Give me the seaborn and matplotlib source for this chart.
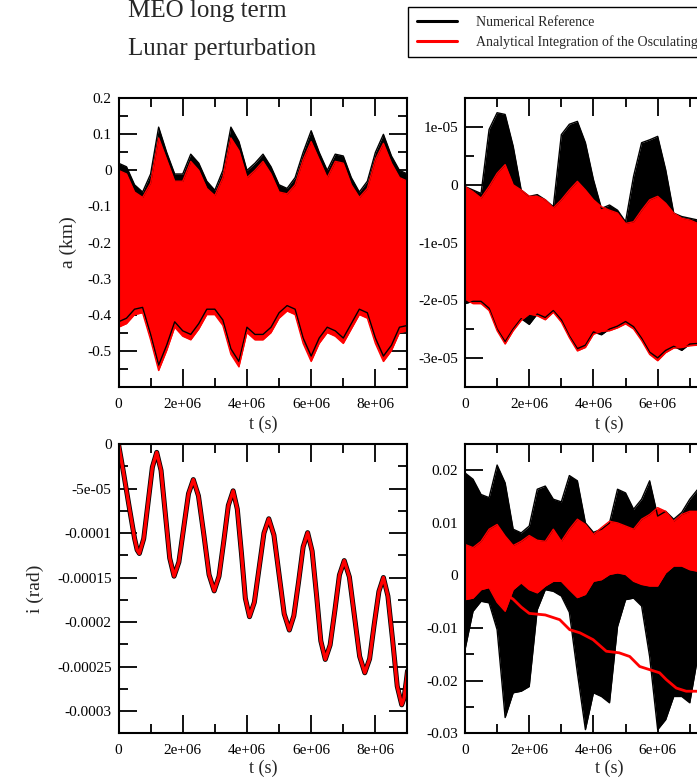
import numpy as np
import matplotlib
matplotlib.use("Agg")
import matplotlib.pyplot as plt
import seaborn as sns
from matplotlib.lines import Line2D
from matplotlib.ticker import MultipleLocator

# ---------------- data ----------------
# sampling grid for the envelopes (seconds)
t_env_a = np.arange(37) * 0.25e6          # 0 .. 9e6
t_env_r = np.arange(31) * 0.25e6          # 0 .. 7.5e6 (right column, cut off)

# a (km) : envelopes of the fast oscillation
a_num_hi = [0.02, 0.01, -0.04, -0.06, -0.01, 0.12, 0.05, -0.01, -0.01, 0.045, 0.02, -0.03,
            -0.055, 0.0, 0.12, 0.08, 0.0, 0.02, 0.045, 0.01, -0.04, -0.05, -0.02, 0.05,
            0.11, 0.05, 0.0, 0.045, 0.04, -0.02, -0.06, -0.03, 0.05, 0.10, 0.04, 0.0, -0.01]
a_num_lo = [-0.42, -0.41, -0.385, -0.38, -0.455, -0.54, -0.485, -0.42, -0.445, -0.455, -0.425,
            -0.385, -0.385, -0.415, -0.495, -0.53, -0.435, -0.455, -0.455, -0.435, -0.395,
            -0.375, -0.385, -0.465, -0.515, -0.465, -0.435, -0.445, -0.465, -0.425, -0.385,
            -0.395, -0.465, -0.515, -0.485, -0.435, -0.43]
a_ana_hi = [0.0, -0.01, -0.06, -0.075, -0.035, 0.09, 0.03, -0.03, -0.03, 0.025, 0.0, -0.05,
            -0.07, -0.02, 0.09, 0.055, -0.02, 0.0, 0.025, -0.01, -0.06, -0.065, -0.04, 0.03,
            0.08, 0.03, -0.02, 0.025, 0.02, -0.04, -0.075, -0.05, 0.03, 0.075, 0.02, -0.02, -0.03]
a_ana_lo = [-0.435, -0.425, -0.40, -0.395, -0.47, -0.555, -0.50, -0.435, -0.46, -0.47, -0.44,
            -0.40, -0.40, -0.43, -0.51, -0.545, -0.45, -0.47, -0.47, -0.45, -0.41, -0.39,
            -0.40, -0.48, -0.53, -0.48, -0.45, -0.46, -0.48, -0.44, -0.40, -0.41, -0.48,
            -0.53, -0.50, -0.45, -0.445]

# top-right panel (units of 1e-5)
e_num_hi = [-0.03, -0.09, -0.15, 0.96, 1.25, 1.22, 0.67, -0.09, -0.2, -0.17, -0.26, -0.38,
            0.87, 1.05, 1.1, 0.73, 0.09, -0.41, -0.35, -0.44, -0.64, 0.15, 0.73, 0.78, 0.84,
            0.26, -0.49, -0.55, -0.58, -0.61, -0.62]
e_num_lo = [-2.06, -2.02, -2.02, -2.14, -2.5, -2.72, -2.5, -2.32, -2.42, -2.24, -2.3, -2.18,
            -2.34, -2.62, -2.84, -2.78, -2.55, -2.6, -2.5, -2.45, -2.37, -2.46, -2.66, -2.9,
            -3.0, -2.87, -2.8, -2.87, -2.76, -2.75, -2.75]
e_ana_hi = [-0.03, -0.12, -0.23, -0.03, 0.2, 0.35, 0.0, -0.09, -0.2, -0.2, -0.26, -0.4, -0.26,
            -0.09, 0.06, -0.09, -0.26, -0.38, -0.44, -0.49, -0.67, -0.64, -0.44, -0.26, -0.2,
            -0.32, -0.49, -0.58, -0.61, -0.67, -0.67]
e_ana_lo = [-1.98, -2.06, -2.06, -2.18, -2.53, -2.76, -2.53, -2.35, -2.24, -2.27, -2.34, -2.21,
            -2.38, -2.65, -2.88, -2.82, -2.59, -2.54, -2.53, -2.48, -2.41, -2.5, -2.7, -2.94,
            -3.05, -2.91, -2.83, -2.82, -2.79, -2.78, -2.78]

# bottom-right panel
w_num_hi = [0.0195, 0.0183, 0.0154, 0.0148, 0.021, 0.0176, 0.0088, 0.0081, 0.0094, 0.0164,
            0.017, 0.0145, 0.014, 0.019, 0.018, 0.010, 0.0082, 0.0088, 0.010, 0.0164, 0.0157,
            0.0126, 0.0145, 0.018, 0.0113, 0.0122, 0.0107, 0.012, 0.0145, 0.0164, 0.016]
w_num_lo = [-0.0141, -0.0068, -0.0049, -0.0052, -0.0103, -0.027, -0.0223, -0.022, -0.0211,
            -0.0065, -0.0027, -0.003, -0.0039, -0.007, -0.0185, -0.0293, -0.0223, -0.023,
            -0.0242, -0.0097, -0.0046, -0.0043, -0.0058, -0.0154, -0.0293, -0.0274, -0.023,
            -0.023, -0.0242, -0.0154, -0.012]
w_ana_hi = [0.0059, 0.0053, 0.0065, 0.0088, 0.0097, 0.0075, 0.0057, 0.0065, 0.0076, 0.0067,
            0.0065, 0.0088, 0.0065, 0.0088, 0.0107, 0.0097, 0.0078, 0.0091, 0.0103, 0.0100,
            0.0094, 0.0088, 0.0107, 0.0116, 0.0129, 0.0122, 0.0103, 0.0116, 0.0122, 0.0122, 0.012]
w_ana_lo = [-0.0046, -0.0043, -0.0027, -0.0023, -0.0051, -0.0068, -0.0027, -0.0014, -0.0027,
            -0.0033, -0.002, -0.0011, -0.0011, -0.0027, -0.0042, -0.0036, -0.0011, -0.0008,
            0.0002, 0.0005, 0.0002, -0.0011, -0.0017, -0.002, -0.002, 0.0005, 0.0018, 0.0018,
            0.0011, 0.0008, 0.0008]
w_drift_t = [0, 0.5e6, 1.0e6, 1.5e6, 1.75e6, 2.0e6, 2.5e6, 2.95e6, 3.26e6, 3.58e6, 3.99e6,
             4.4e6, 4.8e6, 5.13e6, 5.44e6, 5.75e6, 6.06e6, 6.27e6, 6.58e6, 6.89e6, 7.2e6, 7.6e6]
w_drift_v = [0, -0.001, -0.0025, -0.0045, -0.006, -0.0072, -0.0075, -0.0084, -0.0103, -0.0109,
             -0.0122, -0.0144, -0.0147, -0.0154, -0.0173, -0.0179, -0.0185, -0.0198, -0.0214,
             -0.0220, -0.0220, -0.0222]

# i (rad) curve (units 1e-5)
i_t = [0, 0.16, 0.33, 0.5, 0.58, 0.65, 0.785, 0.92, 1.055, 1.19, 1.325, 1.46, 1.595, 1.73,
       1.88, 2.03, 2.18, 2.33, 2.49, 2.66, 2.82, 2.98, 3.13, 3.28, 3.42, 3.57, 3.70, 3.83,
       3.95, 4.08, 4.23, 4.38, 4.53, 4.68, 4.84, 5.0, 5.16, 5.32, 5.46, 5.61, 5.75, 5.89,
       6.03, 6.17, 6.30, 6.44, 6.59, 6.74, 6.88, 7.03, 7.19, 7.35, 7.51, 7.67, 7.82, 7.96,
       8.11, 8.25, 8.39, 8.54, 8.68, 8.82, 8.89, 8.96, 9.0]
i_v = [0, -3.3, -7.0, -10.6, -11.9, -12.3, -10.64, -6.62, -2.60, -0.94, -2.97, -7.90, -12.82,
       -14.85, -13.27, -9.42, -5.58, -4.0, -5.83, -10.25, -14.68, -16.5, -14.86, -10.88, -6.9,
       -5.26, -7.32, -12.33, -17.34, -19.4, -17.79, -13.9, -10.01, -8.4, -10.23, -14.65,
       -19.08, -20.9, -19.3, -15.43, -11.56, -9.96, -12.04, -17.08, -22.12, -24.2, -22.58,
       -18.65, -14.72, -13.1, -14.94, -19.4, -23.86, -25.7, -24.14, -20.35, -16.56, -15.0,
       -17.09, -22.15, -27.21, -29.3, -28.6, -26.7, -25.5]

# ticks
x_ticks = [0, 2e6, 4e6, 6e6, 8e6]
x_labels = ["0", "2e+06", "4e+06", "6e+06", "8e+06"]
a_ticks = [0.2, 0.1, 0, -0.1, -0.2, -0.3, -0.4, -0.5]
a_labels = ["0.2", "0.1", "0", "-0.1", "-0.2", "-0.3", "-0.4", "-0.5"]
e_ticks = [1e-5, 0, -1e-5, -2e-5, -3e-5]
e_labels = ["1e-05", "0", "-1e-05", "-2e-05", "-3e-05"]
i_ticks = [0, -5e-5, -1e-4, -1.5e-4, -2e-4, -2.5e-4, -3e-4]
i_labels = ["0", "-5e-05", "-0.0001", "-0.00015", "-0.0002", "-0.00025", "-0.0003"]
w_ticks = [0.02, 0.01, 0, -0.01, -0.02, -0.03]
w_labels = ["0.02", "0.01", "0", "-0.01", "-0.02", "-0.03"]

legend_labels = ["Numerical Reference",
                 "Analytical Integration of the Osculating Equations"]

# ---------------- style ----------------
sns.set_theme(style="ticks")
plt.rcParams["font.family"] = ["Liberation Serif", "DejaVu Serif"]
plt.rcParams["axes.unicode_minus"] = False

W, H = 697, 779
fig = plt.figure(figsize=(W / 100, H / 100), dpi=100)
fig.patch.set_facecolor("white")

RED = "#ff0000"


def px_axes(left, top, right, bottom):
    return fig.add_axes([left / W, 1 - bottom / H, (right - left) / W, (bottom - top) / H])


ax_a = px_axes(118.5, 98.3, 407.5, 386.7)
ax_e = px_axes(465.0, 98.3, 754.0, 386.7)
ax_i = px_axes(118.5, 444.0, 407.5, 733.3)
ax_w = px_axes(465.0, 444.0, 754.0, 733.3)


def band(ax, t, lo, hi, color):
    ax.fill_between(t, lo, hi, color=color, linewidth=0)
    sns.lineplot(x=t, y=hi, ax=ax, color=color, lw=1.0, estimator=None, legend=False)
    sns.lineplot(x=t, y=lo, ax=ax, color=color, lw=1.0, estimator=None, legend=False)


band(ax_a, t_env_a, a_num_lo, a_num_hi, "black")
band(ax_a, t_env_a, a_ana_lo, a_ana_hi, RED)

band(ax_e, t_env_r, np.array(e_num_lo) * 1e-5, np.array(e_num_hi) * 1e-5, "black")
band(ax_e, t_env_r, np.array(e_ana_lo) * 1e-5, np.array(e_ana_hi) * 1e-5, RED)

band(ax_w, t_env_r, w_num_lo, w_num_hi, "black")
band(ax_w, t_env_r, w_ana_lo, w_ana_hi, RED)
sns.lineplot(x=w_drift_t, y=w_drift_v, ax=ax_w, color=RED, lw=2.0, estimator=None,
             legend=False)

i_tt = np.array(i_t) * 1e6
i_vv = np.array(i_v) * 1e-5
sns.lineplot(x=i_tt, y=i_vv, ax=ax_i, color="black", lw=3.6, estimator=None, sort=False,
             legend=False)
sns.lineplot(x=i_tt, y=i_vv, ax=ax_i, color=RED, lw=2.4, estimator=None, sort=False,
             legend=False)


def style(ax, yt, yl, ylim, yminor):
    ax.set_xlim(0, 9e6)
    ax.set_ylim(*ylim)
    ax.set_xticks(x_ticks, x_labels)
    ax.set_yticks(yt, yl)
    ax.xaxis.set_minor_locator(MultipleLocator(1e6))
    ax.yaxis.set_minor_locator(MultipleLocator(yminor))
    ax.tick_params(which="both", direction="in", top=True, right=True, width=1.3,
                   color="black", labelcolor="black", labelsize=11)
    ax.tick_params(which="major", length=13.3)
    ax.tick_params(which="minor", length=6.8)
    ax.tick_params(axis="x", which="both", pad=8)
    ax.tick_params(axis="y", which="both", pad=5)
    for s in ax.spines.values():
        s.set_linewidth(1.5)
        s.set_color("black")
        s.set_visible(True)
    ax.set_facecolor("white")
    ax.set_xlabel("")
    ax.set_ylabel("")


style(ax_a, a_ticks, a_labels, (-0.6, 0.2), 0.05)
style(ax_e, e_ticks, e_labels, (-3.5e-5, 1.5e-5), 5e-6)
style(ax_i, i_ticks, i_labels, (-0.000325, 0), 2.5e-5)
style(ax_w, w_ticks, w_labels, (-0.03, 0.025), 0.005)

for ax, ytop in ((ax_a, -0.101), (ax_e, -0.101), (ax_i, -0.092), (ax_w, -0.092)):
    ax.set_xlabel("t (s)", fontsize=13)
    ax.xaxis.set_label_coords(0.5, ytop)

ax_a.set_ylabel("a (km)", fontsize=14)
ax_a.yaxis.set_label_coords(-0.142, 0.5)
ax_i.set_ylabel("i (rad)", fontsize=14)
ax_i.yaxis.set_label_coords(-0.258, 0.5)

# titles
fig.text(128 / W, 1 - 17.5 / H, "MEO long term", fontsize=18, ha="left", va="baseline")
fig.text(128 / W, 1 - 55 / H, "Lunar perturbation", fontsize=18, ha="left", va="baseline")

# legend
handles = [Line2D([], [], color="black", lw=2.2), Line2D([], [], color=RED, lw=2.2)]
leg = fig.legend(handles, legend_labels, loc="upper left",
                 bbox_to_anchor=(408.3 / W, 1 - 7.3 / H), bbox_transform=fig.transFigure,
                 frameon=True, fancybox=False, edgecolor="black", facecolor="white",
                 framealpha=1, borderaxespad=0, borderpad=0.6, labelspacing=0.45,
                 handlelength=2.9, handletextpad=1.4, fontsize=10)
leg.get_frame().set_linewidth(1.0)

fig.savefig("out.png", dpi=100, facecolor="white")
